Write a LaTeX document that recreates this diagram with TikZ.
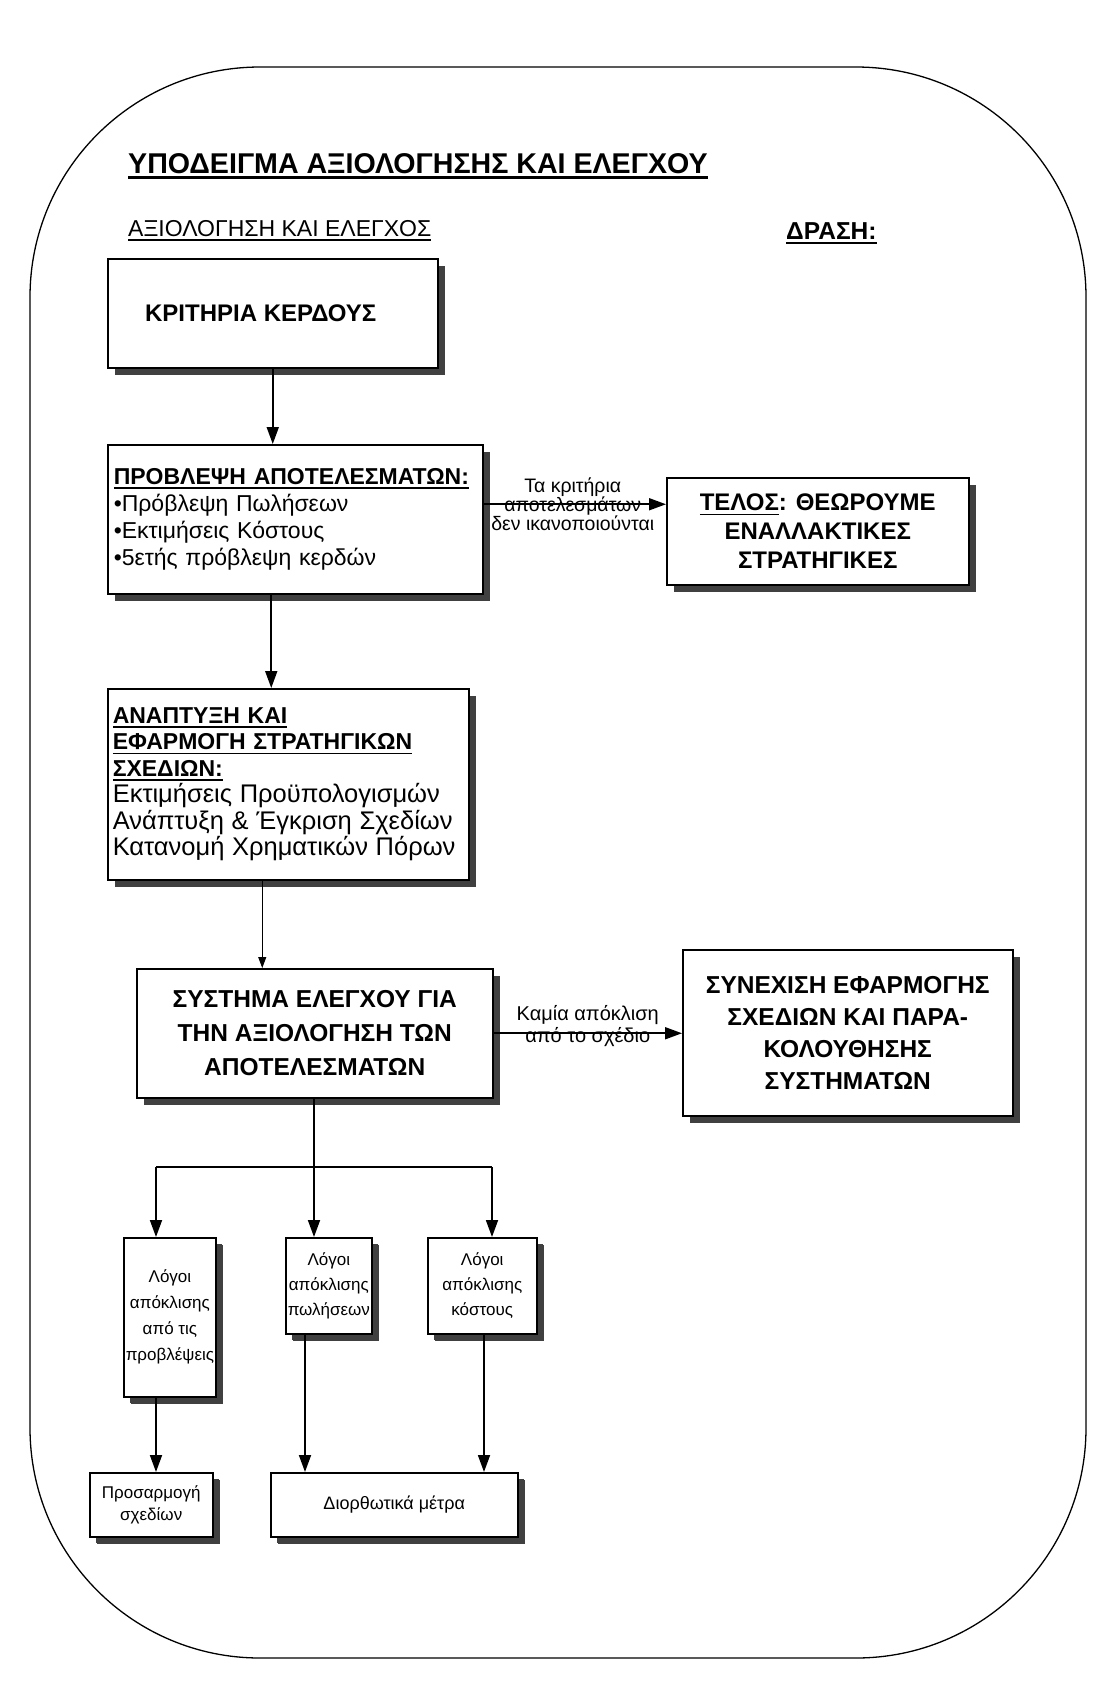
\documentclass[tikz,border=0pt]{standalone}
\usepackage{fontspec}
\setmainfont{Liberation Sans}
\usetikzlibrary{arrows.meta, positioning, shadows}
\tikzstyle{block}=[draw,line width=1.5pt,fill=white,rectangle,anchor=north west,inner sep=6pt,
  drop shadow={shadow xshift=7pt,shadow yshift=-7pt,fill=black!75,opacity=1}]
\tikzstyle{smallblock}=[block,inner sep=2pt,align=center,font=\fontsize{17}{25}\selectfont,
  drop shadow={shadow xshift=6pt,shadow yshift=-6pt,fill=black!75,opacity=1}]
\tikzstyle{every node}=[font=\fontsize{23}{27}\selectfont]
\tikzstyle{flow}=[line width=1.8pt,-{Triangle[length=17pt,width=12pt]}]
\tikzstyle{edgelabel}=[align=center,font=\fontsize{19.5}{19}\selectfont,inner sep=1pt]
\newcommand{\undl}[1]{\setbox0\hbox{#1}\rlap{\rule[-0.2em]{\wd0}{0.08em}}\box0}

\begin{document}
\begin{tikzpicture}[x=1pt,y=-1pt]
    \fill[white] (0,0) rectangle (1097,1706);
    \useasboundingbox (0,0) rectangle (1097,1706);
    % frame
    \draw[line width=1.3pt,rounded corners=230pt] (30,67) rectangle (1086,1658);
    % headings
    \node[anchor=base west,inner sep=0pt,font=\bfseries\fontsize{28.6}{34}\selectfont] (titlos) at (128,173) {\undl{ΥΠΟΔΕΙΓΜΑ ΑΞΙΟΛΟΓΗΣΗΣ ΚΑΙ ΕΛΕΓΧΟΥ}};
    \node[anchor=base west,inner sep=0pt] (aksiologisi) at (128,236) {\undl{ΑΞΙΟΛΟΓΗΣΗ ΚΑΙ ΕΛΕΓΧΟΣ}};
    \node[anchor=base west,inner sep=0pt,font=\bfseries\fontsize{24.5}{28}\selectfont] (drasi) at (786,239) {\undl{ΔΡΑΣΗ:}};
    % left column
    \node[block,minimum width=330pt,minimum height=109pt,font=\bfseries\fontsize{24}{28}\selectfont] (kritiria) at (107,258) {ΚΡΙΤΗΡΙΑ ΚΕΡΔΟΥΣ\hspace*{24pt}};
    \node[block,text width=363pt,minimum height=149pt,align=left] (provlepsi) at (107,444)
        {\textbf{\undl{ΠΡΟΒΛΕΨΗ ΑΠΟΤΕΛΕΣΜΑΤΩΝ:}}\\•Πρόβλεψη Πωλήσεων\\•Εκτιμήσεις Κόστους\\•5ετής πρόβλεψη κερδών};
    \node[block,minimum width=302pt,minimum height=107pt,align=center,font=\bfseries\fontsize{24}{29}\selectfont] (telos) at (666,477)
        {\undl{ΤΕΛΟΣ}: ΘΕΩΡΟΥΜΕ\\ΕΝΑΛΛΑΚΤΙΚΕΣ\\ΣΤΡΑΤΗΓΙΚΕΣ};
    \node[block,text width=351pt,minimum height=191pt,align=left,inner sep=5pt,font=\fontsize{23}{26.5}\selectfont] (anaptyxi) at (107,688)
        {\textbf{\undl{ΑΝΑΠΤΥΞΗ ΚΑΙ}}\\\textbf{\undl{ΕΦΑΡΜΟΓΗ ΣΤΡΑΤΗΓΙΚΩΝ}}\\\textbf{\undl{ΣΧΕΔΙΩΝ:}}\\
        {\fontsize{25.5}{26.5}\selectfont Εκτιμήσεις Προϋπολογισμών}\\{\fontsize{25.5}{26.5}\selectfont Ανάπτυξη \& Έγκριση Σχεδίων}\\{\fontsize{25.5}{26.5}\selectfont Κατανομή Χρηματικών Πόρων}};
    \node[block,minimum width=356pt,minimum height=129pt,align=center,font=\bfseries\fontsize{24.5}{34}\selectfont] (systima) at (136,968)
        {ΣΥΣΤΗΜΑ ΕΛΕΓΧΟΥ ΓΙΑ\\ΤΗΝ ΑΞΙΟΛΟΓΗΣΗ ΤΩΝ\\ΑΠΟΤΕΛΕΣΜΑΤΩΝ};
    \node[block,minimum width=330pt,minimum height=166pt,align=center,font=\bfseries\fontsize{24.5}{32}\selectfont] (synexisi) at (682,949)
        {ΣΥΝΕΧΙΣΗ ΕΦΑΡΜΟΓΗΣ\\ΣΧΕΔΙΩΝ ΚΑΙ ΠΑΡΑ-\\ΚΟΛΟΥΘΗΣΗΣ\\ΣΥΣΤΗΜΑΤΩΝ};
    % reasons
    \node[smallblock,minimum width=88pt,minimum height=159pt,font=\fontsize{17}{26}\selectfont] (logoi1) at (123,1237) {Λόγοι\\απόκλισης\\από τις\\προβλέψεις};
    \node[smallblock,minimum width=80pt,minimum height=96pt] (logoi2) at (285,1237) {Λόγοι\\απόκλισης\\πωλήσεων};
    \node[smallblock,minimum width=109pt,minimum height=96pt] (logoi3) at (427,1237) {Λόγοι\\απόκλισης\\κόστους};
    \node[smallblock,minimum width=123pt,minimum height=64pt,font=\fontsize{17}{22}\selectfont] (prosarmogi) at (89,1472) {Προσαρμογή\\σχεδίων};
    \node[smallblock,minimum width=247pt,minimum height=64pt,font=\fontsize{18}{21}\selectfont] (diorthosi) at (270,1472) {Διορθωτικά μέτρα};
    % branch points
    \coordinate (split) at (314,1167);
    \coordinate (b1) at (156,1167);
    \coordinate (b3) at (492,1167);
    \coordinate (c2) at (305,1400);
    \coordinate (c3) at (484,1400);
    % connectors
    \draw[flow] (kritiria.south) -- (kritiria.south |- provlepsi.north);
    \draw[flow] ([xshift=-24pt]provlepsi.south) -- ([xshift=-24pt]provlepsi.south |- anaptyxi.north);
    \draw[line width=1pt,-{Triangle[length=11pt,width=8pt]}] ([xshift=-26pt]anaptyxi.south) -- ([xshift=-26pt]anaptyxi.south |- systima.north);
    \draw[flow] ([yshift=15pt]provlepsi.east) -- ([yshift=15pt]provlepsi.east -| telos.west)
        node[edgelabel,midway,xshift=-2pt] (lbl1) {Τα κριτήρια\\αποτελεσμάτων\\δεν ικανοποιούνται};
    \draw[flow] (systima.east) -- (systima.east -| synexisi.west)
        node[edgelabel,midway,yshift=7pt,font=\fontsize{20}{22}\selectfont] (lbl2) {Καμία απόκλιση\\από το σχέδιο};
    \draw[line width=1.8pt] (split |- systima.south) -- (split);
    \draw[line width=1.8pt] (b1) -- (b3);
    \draw[flow] (b1) -- (b1 |- logoi1.north);
    \draw[flow] (split) -- (split |- logoi2.north);
    \draw[flow] (b3) -- (b3 |- logoi3.north);
    \draw[flow] (b1 |- logoi1.south) -- (b1 |- prosarmogi.north);
    \draw[flow] (c2 |- logoi2.south) -- (c2 |- diorthosi.north);
    \draw[flow] (c3 |- logoi3.south) -- (c3 |- diorthosi.north);
\end{tikzpicture}
\end{document}
